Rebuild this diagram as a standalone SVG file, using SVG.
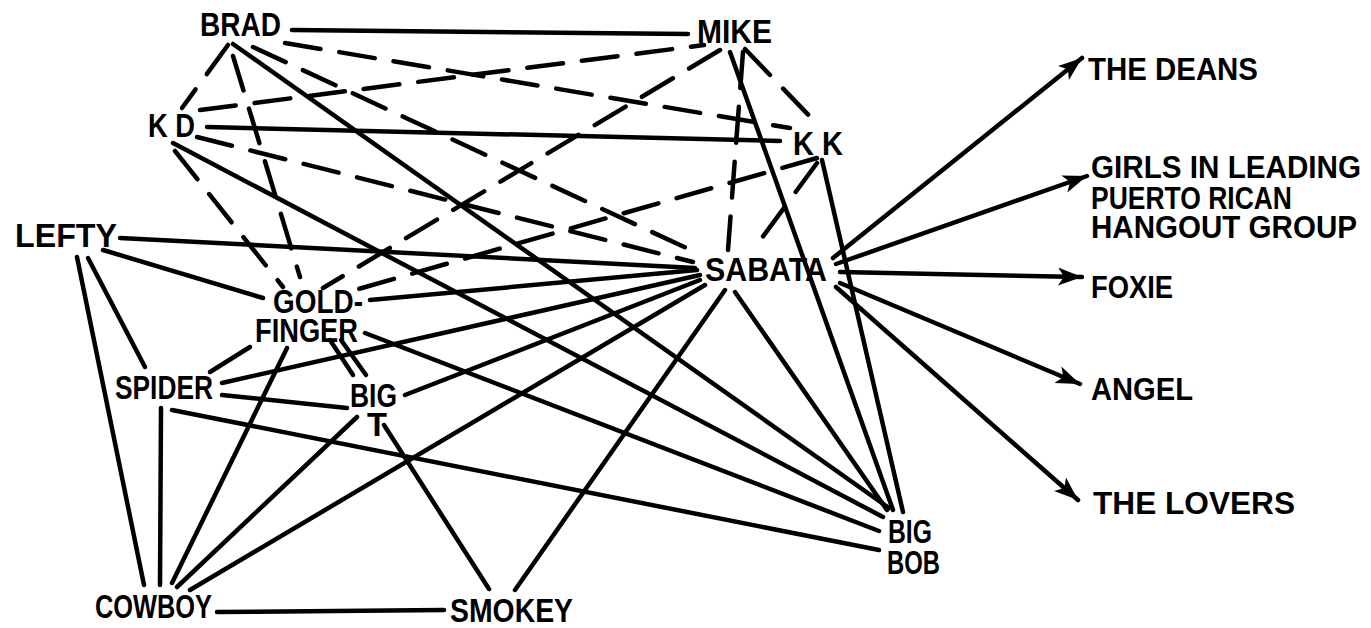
<svg xmlns="http://www.w3.org/2000/svg" width="1371" height="628" viewBox="0 0 1371 628">
<style>
.bg{fill:#fff}
.e{stroke:#000;stroke-width:4.5;stroke-linecap:round;fill:none}
.d{stroke:#000;stroke-width:4.5;stroke-linecap:round;fill:none;stroke-dasharray:36 19}
.a{stroke:#000;stroke-width:4.5;stroke-linecap:round;fill:none;marker-end:url(#ah)}
.t{font-family:"Liberation Sans",Arial,sans-serif;font-weight:bold;font-size:34px;fill:#000}
.s{font-family:"Liberation Sans",Arial,sans-serif;font-weight:bold;font-size:31px;fill:#000}
</style>
<defs>
<marker id="ah" markerUnits="userSpaceOnUse" markerWidth="26" markerHeight="20" refX="24" refY="9" orient="auto">
<path d="M0,0 L24,9 L0,18 L6,9 Z" fill="#000"/>
</marker>
</defs>
<rect class="bg" x="0" y="0" width="1371" height="628"/>
<g id="connectors">
<line class="e" x1="292" y1="30" x2="688" y2="34"/>
<line class="e" x1="207" y1="127" x2="780" y2="141"/>
<line class="e" x1="233" y1="44" x2="889" y2="508"/>
<line class="e" x1="173" y1="143" x2="883" y2="517"/>
<line class="e" x1="730" y1="52" x2="893" y2="510"/>
<line class="e" x1="822" y1="160" x2="903" y2="512"/>
<line class="e" x1="735" y1="292" x2="887" y2="510"/>
<line class="e" x1="365" y1="333" x2="879" y2="531"/>
<line class="e" x1="172" y1="410" x2="879" y2="550"/>
<line class="e" x1="120" y1="238" x2="695" y2="268"/>
<line class="e" x1="103" y1="250" x2="263" y2="298"/>
<line class="e" x1="88" y1="258" x2="145" y2="367"/>
<line class="e" x1="77" y1="257" x2="144" y2="585"/>
<line class="e" x1="370" y1="300" x2="697" y2="270"/>
<line class="e" x1="210" y1="372" x2="250" y2="347"/>
<line class="e" x1="222" y1="383" x2="700" y2="275"/>
<line class="e" x1="222" y1="395" x2="347" y2="408"/>
<line class="e" x1="161" y1="408" x2="160" y2="585"/>
<line class="e" x1="330" y1="340" x2="353" y2="375"/>
<line class="e" x1="341" y1="340" x2="366" y2="375"/>
<line class="e" x1="287" y1="348" x2="172" y2="583"/>
<line class="e" x1="357" y1="417" x2="177" y2="587"/>
<line class="e" x1="405" y1="395" x2="700" y2="280"/>
<line class="e" x1="384" y1="425" x2="489" y2="589"/>
<line class="e" x1="190" y1="590" x2="705" y2="285"/>
<line class="e" x1="217" y1="612" x2="444" y2="610"/>
<line class="e" x1="515" y1="590" x2="725" y2="290"/>
<line class="d" x1="228" y1="45" x2="182" y2="108"/>
<line class="d" x1="233" y1="56" x2="300" y2="277"/>
<line class="d" x1="285" y1="43" x2="790" y2="128"/>
<line class="d" x1="253" y1="47" x2="695" y2="252"/>
<line class="d" x1="200" y1="110" x2="704" y2="45"/>
<line class="d" x1="197" y1="137" x2="693" y2="262"/>
<line class="d" x1="175" y1="151" x2="283" y2="287"/>
<line class="d" x1="720" y1="50" x2="323" y2="288"/>
<line class="d" x1="745" y1="49" x2="821" y2="128"/>
<line class="d" x1="743" y1="52" x2="728" y2="250"/>
<line class="d" x1="817" y1="163" x2="753" y2="250"/>
<line class="d" x1="817" y1="158" x2="355" y2="290"/>
<line class="a" x1="833" y1="258" x2="1082" y2="58"/>
<line class="a" x1="836" y1="264" x2="1087" y2="176"/>
<line class="a" x1="840" y1="272" x2="1082" y2="277"/>
<line class="a" x1="840" y1="283" x2="1080" y2="384"/>
<line class="a" x1="836" y1="287" x2="1078" y2="500"/>
</g>
<g id="brad"><text class="t" x="200" y="36" textLength="81" lengthAdjust="spacingAndGlyphs">BRAD</text></g>
<g id="mike"><text class="t" x="697" y="43" textLength="75" lengthAdjust="spacingAndGlyphs">MIKE</text></g>
<g id="kd"><text class="t" x="148" y="137" textLength="47" lengthAdjust="spacingAndGlyphs">K D</text></g>
<g id="kk"><text class="t" x="793" y="155" textLength="50" lengthAdjust="spacingAndGlyphs">K K</text></g>
<g id="lefty"><text class="t" x="15" y="247" textLength="102" lengthAdjust="spacingAndGlyphs">LEFTY</text></g>
<g id="sabata"><text class="t" x="705" y="281" textLength="122" lengthAdjust="spacingAndGlyphs">SABATA</text></g>
<g id="goldfinger">
<text class="t"><tspan x="273" y="313" textLength="90" lengthAdjust="spacingAndGlyphs">GOLD-</tspan><tspan x="255" y="342" textLength="103" lengthAdjust="spacingAndGlyphs">FINGER</tspan></text>
</g>
<g id="spider"><text class="t" x="115" y="399" textLength="98" lengthAdjust="spacingAndGlyphs">SPIDER</text></g>
<g id="bigt">
<text class="t"><tspan x="350" y="407" textLength="47" lengthAdjust="spacingAndGlyphs">BIG</tspan><tspan x="367" y="436" textLength="20" lengthAdjust="spacingAndGlyphs">T</tspan></text>
</g>
<g id="cowboy"><text class="t" x="95" y="618" textLength="117" lengthAdjust="spacingAndGlyphs">COWBOY</text></g>
<g id="smokey"><text class="t" x="450" y="622" textLength="123" lengthAdjust="spacingAndGlyphs">SMOKEY</text></g>
<g id="bigbob">
<text class="t"><tspan x="888" y="543" textLength="44" lengthAdjust="spacingAndGlyphs">BIG</tspan><tspan x="887" y="574" textLength="53" lengthAdjust="spacingAndGlyphs">BOB</tspan></text>
</g>
<g id="thedeans"><text class="s" x="1088" y="80" textLength="170" lengthAdjust="spacingAndGlyphs">THE DEANS</text></g>
<g id="girls">
<text class="s"><tspan x="1091" y="178" textLength="270" lengthAdjust="spacingAndGlyphs">GIRLS IN LEADING</tspan><tspan x="1091" y="209" textLength="201" lengthAdjust="spacingAndGlyphs">PUERTO RICAN</tspan><tspan x="1091" y="238" textLength="266" lengthAdjust="spacingAndGlyphs">HANGOUT GROUP</tspan></text>
</g>
<g id="foxie"><text class="s" x="1091" y="298" textLength="82" lengthAdjust="spacingAndGlyphs">FOXIE</text></g>
<g id="angel"><text class="s" x="1091" y="400" textLength="102" lengthAdjust="spacingAndGlyphs">ANGEL</text></g>
<g id="lovers"><text class="s" x="1093" y="514" textLength="202" lengthAdjust="spacingAndGlyphs">THE LOVERS</text></g>
</svg>
